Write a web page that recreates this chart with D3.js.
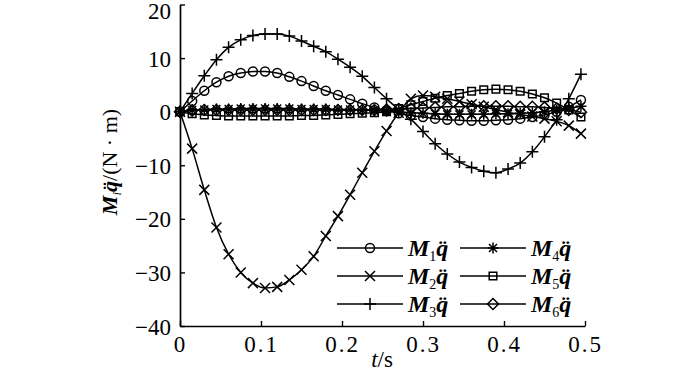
<!DOCTYPE html>
<html>
<head>
<meta charset="utf-8">
<script src="https://cdn.jsdelivr.net/npm/d3@7"></script>
<style>
  body { margin: 0; background: #fff; }
  text { font-family: "Liberation Serif", "Times New Roman", serif; fill: #000; }
</style>
</head>
<body>
<svg id="chart" width="700" height="372"></svg>
<script>
// time samples (s)
var tValues = [0, 0.015, 0.03, 0.045, 0.06, 0.075, 0.09, 0.105, 0.12, 0.135, 0.15, 0.165,
    0.18, 0.195, 0.21, 0.225, 0.24, 0.255, 0.27, 0.285, 0.3, 0.315, 0.33, 0.345, 0.36,
    0.375, 0.39, 0.405, 0.42, 0.435, 0.45, 0.465, 0.48, 0.495];

var m1 = [0, 2.0, 3.9, 5.5, 6.6, 7.2, 7.5, 7.5, 7.2, 6.5, 5.7, 4.8, 3.9, 3.1, 2.3, 1.5, 0.8,
    0.2, -0.3, -0.7, -1.0, -1.3, -1.5, -1.6, -1.7, -1.7, -1.6, -1.5, -1.3, -1.0, -0.6, 0.0, 0.9, 2.2];
var m2 = [0, -6.9, -14.6, -21.6, -26.6, -30.0, -32.0, -32.9, -32.7, -31.4, -29.5, -27.0, -23.2,
    -19.5, -15.5, -11.4, -7.4, -3.6, -0.2, 2.4, 3.0, 2.8, 2.4, 1.9, 1.4, 0.9, 0.4, -0.1, -0.5,
    -0.9, -1.3, -1.8, -2.6, -4.1];
var m3 = [0, 3.4, 6.7, 9.7, 12.0, 13.4, 14.2, 14.5, 14.5, 14.1, 13.2, 12.2, 11.2, 9.8, 8.3, 6.6,
    4.5, 2.4, 0.4, -1.4, -3.7, -6.0, -7.9, -9.4, -10.4, -11.1, -11.4, -10.7, -9.6, -7.5, -4.7,
    -1.5, 2.4, 7.0];
var m4 = [0, 0.3, 0.4, 0.5, 0.5, 0.6, 0.6, 0.6, 0.6, 0.6, 0.5, 0.5, 0.5, 0.4, 0.4, 0.3, 0.2,
    0.1, 0, -0.2, -0.3, -0.4, -0.5, -0.5, -0.5, -0.5, -0.4, -0.4, -0.3, -0.2, 0.0, 0.3, 0.6, 1.0];
var m5 = [0, -0.4, -0.6, -0.7, -0.8, -0.8, -0.8, -0.8, -0.8, -0.8, -0.7, -0.7, -0.6, -0.5, -0.4,
    -0.3, -0.2, 0.0, 0.6, 1.3, 1.9, 2.5, 3.0, 3.4, 3.8, 4.1, 4.2, 4.1, 3.8, 3.3, 2.6, 1.6, 0.3, -1.0];
var m6 = [0, 0.2, 0.3, 0.3, 0.3, 0.3, 0.3, 0.3, 0.3, 0.3, 0.3, 0.3, 0.3, 0.3, 0.3, 0.3, 0.3,
    0.4, 0.5, 0.6, 0.7, 0.8, 0.9, 0.9, 1.0, 1.0, 1.0, 1.0, 0.9, 0.9, 0.8, 0.6, 0.3, -0.1];

var xTicks = [0, 0.1, 0.2, 0.3, 0.4, 0.5];
var yTicks = [20, 10, 0, -10, -20, -30, -40];

var seriesNames = ["1", "2", "3", "4", "5", "6"];
var seriesValues = [m1, m2, m3, m4, m5, m6];
var seriesMarkers = ["circle", "times", "plus", "star", "square", "diamond"];

var svg = d3.select("#chart");

var x = d3.scaleLinear().domain([0, 0.5]).range([180, 585]);
var y = d3.scaleLinear().domain([-40, 20]).range([326, 4.5]);

// marker paths, centred on 0,0
function markerPath(kind) {
    var p = d3.path();
    if (kind == "times") {
        var h = 5;
        p.moveTo(-h, -h); p.lineTo(h, h); p.moveTo(-h, h); p.lineTo(h, -h);
    } else if (kind == "plus") {
        var h = 6;
        p.moveTo(-h, 0); p.lineTo(h, 0); p.moveTo(0, -h); p.lineTo(0, h);
    } else if (kind == "star") {
        var h = 5.5, k = 4;
        p.moveTo(-h, 0); p.lineTo(h, 0); p.moveTo(0, -h); p.lineTo(0, h);
        p.moveTo(-k, -k); p.lineTo(k, k); p.moveTo(-k, k); p.lineTo(k, -k);
    } else if (kind == "square") {
        p.rect(-3.8, -3.8, 7.6, 7.6);
    } else if (kind == "diamond") {
        var h = 5.5;
        p.moveTo(0, -h); p.lineTo(h, 0); p.lineTo(0, h); p.lineTo(-h, 0); p.closePath();
    } else {
        p.arc(0, 0, 4.5, 0, Math.PI * 2);
    }
    return p.toString();
}

// axes
var xAxis = d3.axisBottom(x).tickValues(xTicks).tickSizeInner(-5).tickSizeOuter(0)
    .tickFormat(function (d) { return d === 0 ? "0" : d3.format(".1f")(d); });
var yAxis = d3.axisLeft(y).tickValues(yTicks).tickSizeInner(-5).tickSizeOuter(0)
    .tickFormat(function (d) { return d < 0 ? "\u2212" + Math.abs(d) : "" + d; });

var gx = svg.append("g").attr("transform", "translate(0," + y(-40) + ")").call(xAxis);
gx.select(".domain").attr("stroke", "#000").attr("stroke-width", 1.7);
gx.selectAll(".tick line").attr("stroke", "#000").attr("stroke-width", 1.4);
gx.selectAll(".tick text").attr("font-size", 23).attr("dy", "1.0em")
    .attr("font-family", "Liberation Serif").attr("letter-spacing", 2);

var gy = svg.append("g").attr("transform", "translate(" + x(0) + ",0)").call(yAxis);
gy.select(".domain").attr("stroke", "#000").attr("stroke-width", 1.7);
gy.selectAll(".tick line").attr("stroke", "#000").attr("stroke-width", 1.4);
gy.selectAll(".tick text").attr("font-size", 23).attr("x", -9)
    .attr("font-family", "Liberation Serif")
    .attr("dy", function (d) { return d == 20 ? "0.62em" : "0.35em"; });

// series
var line = d3.line()
    .x(function (d, i) { return x(tValues[i]); })
    .y(function (d) { return y(d); })
    .curve(d3.curveMonotoneX);

var plot = svg.append("g");
seriesValues.forEach(function (vals, si) {
    plot.append("path")
        .attr("d", line(vals))
        .attr("fill", "none")
        .attr("stroke", "#000")
        .attr("stroke-width", 1.5);
    plot.selectAll(".mk" + si)
        .data(vals)
        .enter().append("path")
        .attr("class", "mk" + si)
        .attr("transform", function (d, i) { return "translate(" + x(tValues[i]) + "," + y(d) + ")"; })
        .attr("d", markerPath(seriesMarkers[si]))
        .attr("fill", "none")
        .attr("stroke", "#000")
        .attr("stroke-width", 1.5);
});

// legend
var legend = svg.append("g");
seriesNames.forEach(function (name, i) {
    var col = Math.floor(i / 3), row = i % 3;
    var lx = 337 + col * 123, ly = 248 + row * 28;
    legend.append("line")
        .attr("x1", lx).attr("x2", lx + 66)
        .attr("y1", ly).attr("y2", ly)
        .attr("stroke", "#000").attr("stroke-width", 1.5);
    legend.append("path")
        .attr("transform", "translate(" + (lx + 33) + "," + ly + ")")
        .attr("d", markerPath(seriesMarkers[i]))
        .attr("fill", "none").attr("stroke", "#000").attr("stroke-width", 1.5);
    var t = legend.append("text")
        .attr("x", lx + 71).attr("y", ly + 8)
        .attr("font-size", 24);
    t.append("tspan").attr("font-weight", "bold").attr("font-style", "italic").text("M");
    t.append("tspan").attr("font-size", 14).attr("dy", 5).text(name);
    t.append("tspan").attr("font-weight", "bold").attr("font-style", "italic").attr("dy", -5).text("q\u0308");
});

// axis titles
var xt = svg.append("text")
    .attr("x", 382).attr("y", 367)
    .attr("text-anchor", "middle").attr("font-size", 23);
xt.append("tspan").attr("font-style", "italic").text("t");
xt.append("tspan").text("/s");

var yt = svg.append("text")
    .attr("transform", "translate(117,162) rotate(-90)")
    .attr("text-anchor", "middle").attr("font-size", 22);
yt.append("tspan").attr("font-weight", "bold").attr("font-style", "italic").text("M");
yt.append("tspan").attr("font-style", "italic").attr("font-size", 13).attr("dy", 4).text("i");
yt.append("tspan").attr("font-weight", "bold").attr("font-style", "italic").attr("dy", -4).text("q\u0308");
yt.append("tspan").text("/(N \u00b7 m)");
</script>
</body>
</html>
